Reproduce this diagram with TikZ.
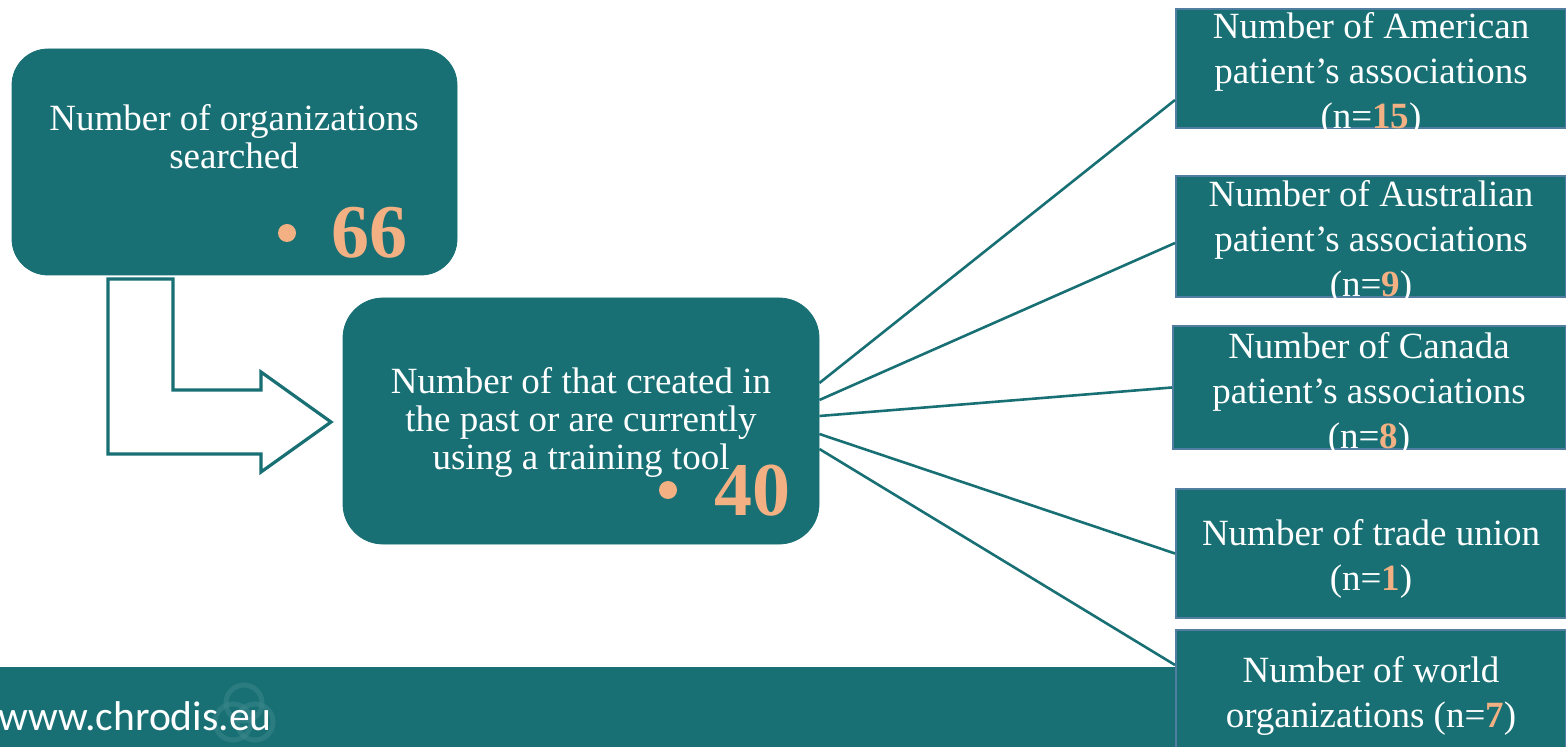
\documentclass[tikz,border=0pt]{standalone}
\usepackage{fontspec}
\setmainfont{Liberation Serif}
\newfontfamily\bannerfont{Carlito}
\definecolor{teal1}{RGB}{24,112,116}
\definecolor{orng}{RGB}{242,176,131}
\definecolor{edgeblue}{RGB}{80,125,160}
\definecolor{logoc}{RGB}{60,135,138}
\begin{document}
\begin{tikzpicture}[x=0.5pt,y=-0.5pt,
  rbox/.style={draw=teal1,fill=teal1,rounded corners=18pt,inner sep=0pt},
  sbox/.style={draw=edgeblue,line width=1pt,fill=teal1,inner sep=0pt},
  btxt/.style={text=white,align=center,font=\fontsize{18.5pt}{19pt}\selectfont,inner sep=0pt},
  stxt/.style={text=white,align=center,font=\fontsize{18.5pt}{22.5pt}\selectfont,inner sep=0pt},
  bignum/.style={text=orng,font=\fontsize{38pt}{40pt}\selectfont\bfseries,inner sep=0pt},
  bul/.style={circle,fill=orng,minimum size=9pt,inner sep=0pt},
  conn/.style={draw=teal1,line width=1.3pt},
  larrow/.style={draw=teal1,line width=1.6pt,fill=white,line join=miter}]
\useasboundingbox (0,0) rectangle (1566,747);
% banner
\node[fill=teal1,minimum width=783pt,minimum height=40pt,inner sep=0pt,anchor=north west] (banner) at (0,667) {};
\begin{scope}[draw=logoc,line width=2.5pt,opacity=0.55]
\draw (244,703) circle (9pt);
\draw (233,722) circle (9pt);
\draw (255,722) circle (9pt);
\end{scope}
\node[text=white,font=\bannerfont\fontsize{20.8pt}{22pt}\selectfont,anchor=west,inner sep=0pt] (url) at (-2,716) {www.chrodis.eu};
% box 1
\node[rbox,minimum width=222.5pt,minimum height=113pt] (b1) at (234.5,162) {};
\node[btxt] (b1t) at (234,137) {Number of organizations\\searched};
\node[bul] (b1d) at (287,233) {};
\node[bignum] (b1n) at (369,233) {66};
% L arrow
\draw[larrow] (108,279) -- (173,279) -- (173,390) -- (261,390) -- (261,372) -- (331,422) -- (261,472) -- (261,454) -- (108,454) -- cycle;
% box 2
\node[rbox,minimum width=238pt,minimum height=123pt,rounded corners=20pt] (b2) at (581,421) {};
\node[btxt] (b2t) at (581,422) {Number of that created in\\the past or are currently\\using a training tool};
\node[bul] (b2d) at (668,490) {};
\node[bignum] (b2n) at (752,491) {40};
% right boxes
\node[sbox,minimum width=195pt,minimum height=59.5pt] (r1) at (1371,68.5) {};
\node[sbox,minimum width=195pt,minimum height=60.5pt] (r2) at (1371,236.5) {};
\node[sbox,minimum width=196.5pt,minimum height=61.5pt] (r3) at (1369.5,387.5) {};
\node[sbox,minimum width=195pt,minimum height=64.5pt] (r4) at (1371,553.5) {};
\node[sbox,minimum width=195pt,minimum height=60pt] (r5) at (1371,690) {};
\node[stxt] (t1) at (1371,74) {Number of American\\patient’s associations\\(n=\textcolor{orng}{\textbf{15}})};
\node[stxt] (t2) at (1371,242) {Number of Australian\\patient’s associations\\(n=\textcolor{orng}{\textbf{9}})};
\node[stxt] (t3) at (1369,394) {Number of Canada\\patient’s associations\\(n=\textcolor{orng}{\textbf{8}})};
\node[stxt] (t4) at (1371,559) {Number of trade union\\(n=\textcolor{orng}{\textbf{1}})};
\node[stxt] (t5) at (1371,696) {Number of world\\organizations (n=\textcolor{orng}{\textbf{7}})};
% connectors
\draw[conn] ([shift={(0,-38)}]b2.east) -- ([shift={(0,31.5)}]r1.west);
\draw[conn] ([shift={(0,-21)}]b2.east) -- ([shift={(0,6.5)}]r2.west);
\draw[conn] ([shift={(0,-5)}]b2.east) -- (r3.west);
\draw[conn] ([shift={(0,13)}]b2.east) -- (r4.west);
\draw[conn] ([shift={(0,28)}]b2.east) -- ([shift={(0,-25)}]r5.west);
\end{tikzpicture}
\end{document}
